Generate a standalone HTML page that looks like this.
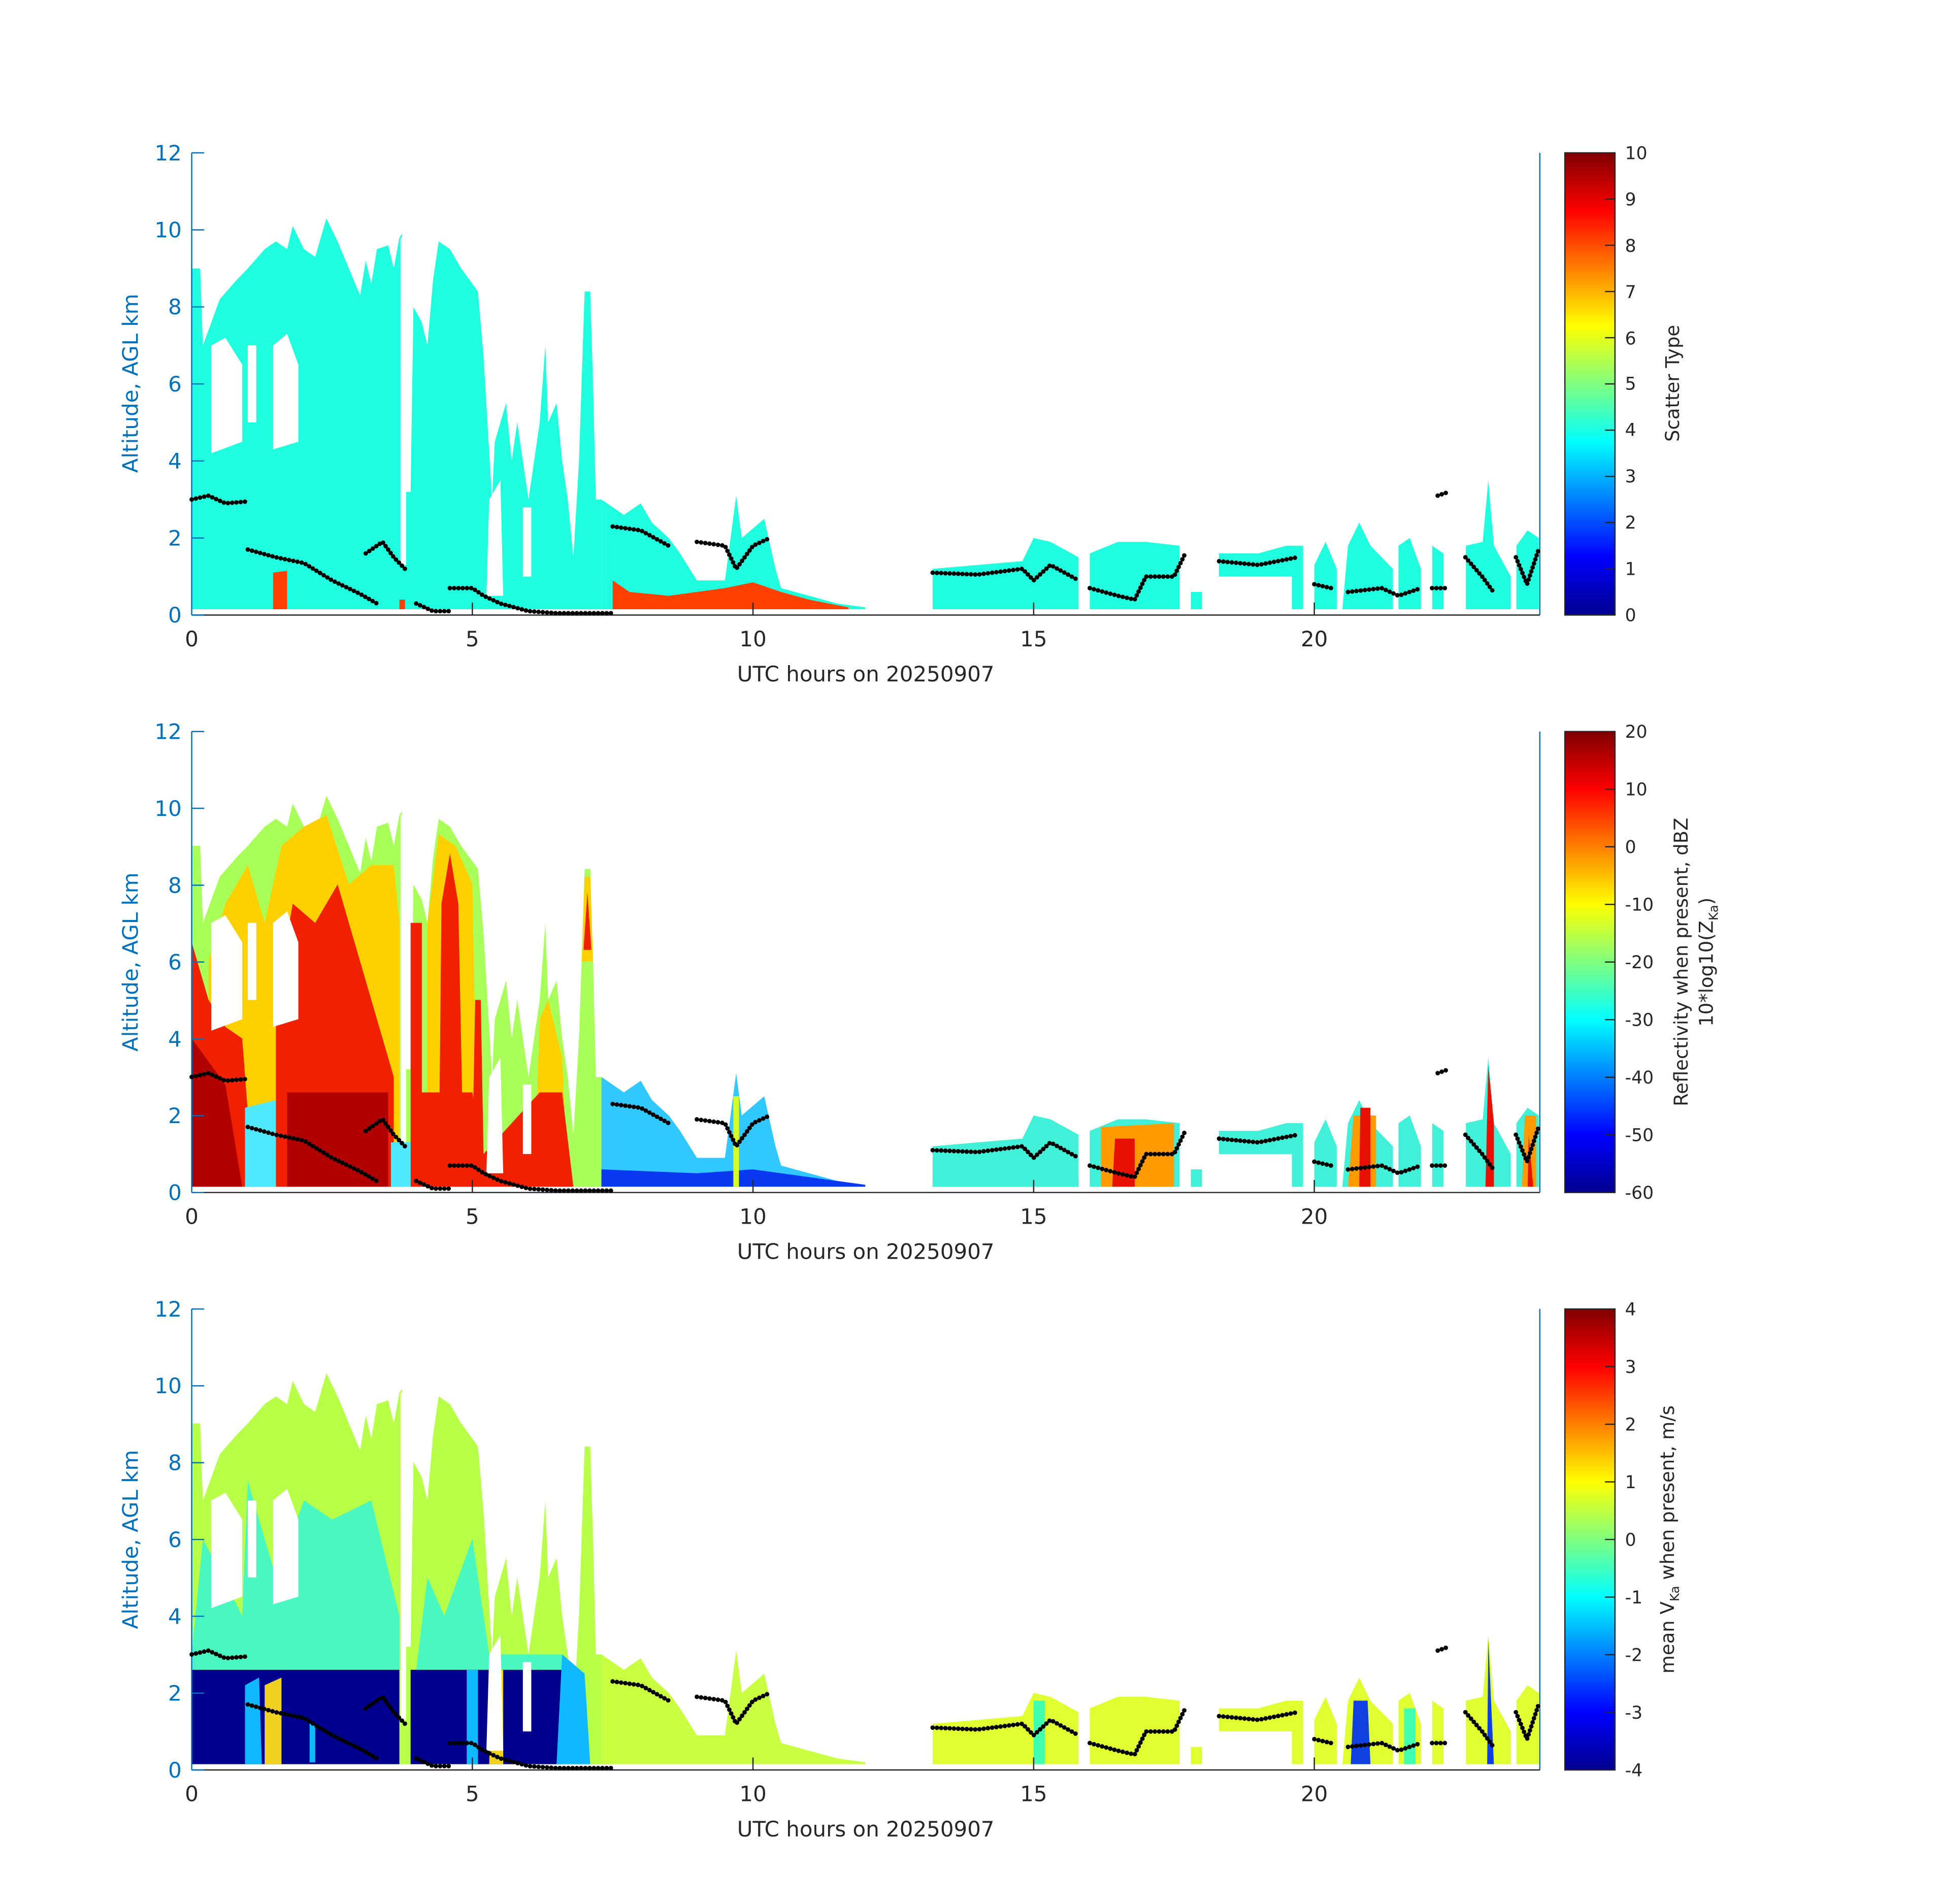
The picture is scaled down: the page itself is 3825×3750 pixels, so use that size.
<!DOCTYPE html>
<html><head><meta charset="utf-8"><style>html,body{margin:0;padding:0;background:#fff}svg{display:block}</style></head>
<body>
<svg width="3825" height="3750" viewBox="0 0 1550 1520" preserveAspectRatio="none" xmlns="http://www.w3.org/2000/svg" font-family="DejaVu Sans, Liberation Sans, sans-serif">
<defs>
<linearGradient id="jet" x1="0" y1="1" x2="0" y2="0">
<stop offset="0" stop-color="#00008f"/><stop offset="0.125" stop-color="#0000ff"/><stop offset="0.375" stop-color="#00ffff"/><stop offset="0.625" stop-color="#ffff00"/><stop offset="0.875" stop-color="#ff0000"/><stop offset="1" stop-color="#800000"/>
</linearGradient>
<path id="envA" d="M0 .15 L0 9 L0.15 9 L0.2 7 L0.5 8.2 L0.8 8.7 L1 9 L1.3 9.5 L1.5 9.7 L1.7 9.5 L1.8 10.1 L2 9.5 L2.2 9.3 L2.4 10.3 L2.6 9.7 L2.8 9 L3 8.3 L3.1 9.2 L3.2 8.6 L3.3 9.5 L3.5 9.6 L3.6 9 L3.7 9.8 L3.75 9.9 L3.8 3.2 L3.9 3.2 L3.95 8 L4.1 7.6 L4.2 7 L4.3 8.7 L4.4 9.7 L4.6 9.5 L4.8 9 L5 8.6 L5.1 8.4 L5.2 6.7 L5.35 3 L5.4 4.5 L5.6 5.5 L5.7 4 L5.8 5 L6 3 L6.1 4 L6.2 5 L6.3 7 L6.35 5 L6.5 5.5 L6.6 4 L6.7 3 L6.8 1.5 L6.9 4 L7 8.4 L7.1 8.4 L7.15 6 L7.2 3 L7.3 3 L7.3 .15 Z"/>
<path id="envB" d="M7.3 .15 L7.3 3 L7.7 2.6 L8 2.9 L8.2 2.4 L8.5 2 L8.7 1.6 L9 .9 L9.5 .9 L9.7 3.1 L9.8 2 L10.2 2.5 L10.4 1.2 L10.5 .7 L11 .5 L11.5 .3 L12 .2 L12 .15 Z"/>
<path id="late" d="M13.2 .15 L13.2 1.2 L14 1.3 L14.8 1.4 L15 2 L15.3 1.9 L15.8 1.5 L15.8 .15 Z M16 .15 L16 1.6 L16.5 1.9 L17 1.9 L17.6 1.8 L17.6 .15 Z M17.8 .15 L17.8 .6 L18 .6 L18 .15 Z M18.3 1.0 L18.3 1.6 L19 1.6 L19.5 1.8 L19.8 1.8 L19.8 .15 L19.6 .15 L19.6 1.0 Z M20 .15 L20 1.3 L20.2 1.9 L20.4 1.2 L20.4 .15 Z M20.5 .15 L20.6 1.8 L20.8 2.4 L21 1.8 L21.4 1.2 L21.4 .15 Z M21.5 .15 L21.5 1.8 L21.7 2.0 L21.9 1.2 L21.9 .15 Z M22.1 .15 L22.1 1.8 L22.3 1.6 L22.3 .15 Z M22.7 .15 L22.7 1.8 L23 1.9 L23.1 3.5 L23.2 1.8 L23.5 1.0 L23.5 .15 Z M23.6 .15 L23.6 1.8 L23.8 2.2 L24 2.0 L24 .15 Z"/>
<path id="holes" d="M0.35 4.2 L0.35 7 L0.6 7.2 L0.9 6.5 L0.9 4.5 Z M1.0 5 L1.0 7 L1.15 7 L1.15 5 Z M1.45 4.3 L1.45 7 L1.7 7.3 L1.9 6.5 L1.9 4.5 Z M3.72 1.3 L3.72 9.8 L3.82 9.8 L3.82 1.3 Z M5.25 .5 L5.3 3 L5.5 3.5 L5.55 .5 Z M5.9 1 L5.9 2.8 L6.05 2.8 L6.05 1 Z"/>
</defs>

<!-- ============ PANEL 1 ============ -->
<g transform="translate(153,491) scale(44.8,-30.75)">
<use href="#envA" fill="#1fffdf"/>
<use href="#envB" fill="#1fffdf"/>
<use href="#late" fill="#1fffdf"/>
<use href="#holes" fill="#fff"/>
<path d="M7.5 .15 L7.5 .9 L7.8 .6 L8.5 .5 L9.5 .7 L10 .85 L10.5 .6 L11 .4 L11.7 .2 L11.7 .15 Z M1.45 .15 L1.45 1.1 L1.7 1.15 L1.7 .15 Z M3.7 .15 L3.7 .4 L3.8 .4 L3.8 .15 Z" fill="#ff4000"/>
</g>
<!-- ============ PANEL 2 ============ -->
<g transform="translate(153,952) scale(44.8,-30.75)">
<use href="#envA" fill="#a8ff58"/>
<path d="M0.3 .15 L0.3 6 L0.6 7.5 L1 8.5 L1.3 7 L1.6 9 L2 9.5 L2.4 9.8 L2.8 8 L3.2 8.5 L3.6 8.5 L3.7 7 L3.7 .15 Z M4.2 .15 L4.2 7 L4.4 9.3 L4.7 9 L5 8 L5.1 .15 Z M6.1 .15 L6.2 4.5 L6.35 5 L6.6 3.5 L6.7 .15 Z M6.95 6 L7.0 8.2 L7.1 8.2 L7.15 6 Z" fill="#ffd000"/>
<path d="M0 .15 L0 6.5 L0.3 5 L0.6 4.3 L0.9 4 L1.1 .15 Z M1.5 .15 L1.5 5 L1.8 7.5 L2.2 7 L2.6 8 L3 6 L3.3 4.5 L3.6 3 L3.6 .15 Z M3.9 .15 L3.9 7 L4.1 7 L4.1 .15 Z M4.4 .15 L4.45 7.5 L4.6 8.8 L4.75 7.5 L4.85 .15 Z M3.9 .15 L3.9 2.6 L5 2.6 L5.2 1 L6.2 2.6 L6.6 2.6 L6.8 .15 Z M5.0 1 L5.05 5 L5.15 5 L5.2 1 Z M6.98 6.3 L7.05 7.8 L7.12 6.3 Z" fill="#f02000"/>
<path d="M0 .15 L0 4 L0.6 2.8 L0.9 .15 Z M1.7 .15 L1.7 2.6 L3.5 2.6 L3.5 .15 Z" fill="#b00000"/>
<path d="M0.95 .15 L0.95 2.2 L1.5 2.4 L1.5 .15 Z M3.55 .15 L3.55 1.3 L3.9 1.3 L3.9 .15 Z" fill="#50e8ff"/>
<use href="#holes" fill="#fff"/>
<use href="#envB" fill="#30c8ff"/>
<path d="M7.3 .15 L7.3 .6 L9 .5 L10 .6 L11 .4 L12 .2 L12 .15 Z M13.2 .15 L13.2 .35 L15.8 .35 L15.8 .15 Z" fill="#0838f0"/>
<path d="M9.65 .15 L9.65 2.5 L9.75 2.5 L9.75 .15 Z" fill="#d8ff20"/>
<use href="#late" fill="#40f0d8"/>
<path d="M16.2 .15 L16.2 1.7 L17.5 1.8 L17.5 .15 Z M20.6 .15 L20.7 2 L21.1 2 L21.1 .15 Z M23.7 .15 L23.75 2 L23.95 2 L23.95 .15 Z" fill="#ff9a00"/>
<path d="M16.4 .15 L16.45 1.4 L16.8 1.4 L16.8 .15 Z M20.8 .15 L20.82 2.2 L21.0 2.2 L21.0 .15 Z M23.05 .15 L23.1 3.3 L23.2 1.8 L23.2 .15 Z M23.8 .15 L23.82 1.5 L23.9 .15 Z" fill="#e81000"/>
</g>
<!-- ============ PANEL 3 ============ -->
<g transform="translate(153,1413) scale(44.8,-30.75)">
<use href="#envA" fill="#b8ff48"/>
<path d="M0 3 L0.2 6 L0.9 4 L1 7.5 L1.5 5 L2 7 L2.5 6.5 L3.2 7 L3.7 4 L3.7 2.6 L0 2.6 Z M4 2.6 L4.2 5 L4.5 4 L5 6 L5.3 3 L6.6 3 L6.6 2.6 Z" fill="#48f8c0"/>
<path d="M0 .15 L0 2.6 L3.7 2.6 L3.7 .15 Z M3.9 .15 L3.9 2.6 L6.6 2.6 L6.6 .15 Z" fill="#00008f"/>
<path d="M0.95 .15 L0.95 2.2 L1.2 2.4 L1.25 .15 Z M4.9 .15 L4.9 2.6 L5.1 2.6 L5.1 .15 Z M6.5 .15 L6.6 3 L7 2.5 L7.1 .15 Z M2.1 .2 L2.1 1.2 L2.2 1.2 L2.2 .2 Z" fill="#10b8ff"/>
<path d="M1.3 .15 L1.3 2.2 L1.6 2.4 L1.6 .15 Z M5.3 .15 L5.35 2.6 L5.55 2.6 L5.55 .15 Z" fill="#f0d020"/>
<use href="#holes" fill="#fff"/>
<use href="#envB" fill="#c8ff40"/>
<use href="#late" fill="#e0ff30"/>
<path d="M20.65 .15 L20.7 1.8 L20.95 1.8 L21.0 .15 Z M23.08 .15 L23.1 3.4 L23.2 .15 Z" fill="#1040e0"/>
<path d="M15.0 .15 L15.0 1.8 L15.2 1.8 L15.2 .15 Z M21.6 .15 L21.6 1.6 L21.8 1.6 L21.8 .15 Z" fill="#40ffb0"/>
</g>

<g>
<line x1="153" y1="122" x2="153" y2="491" stroke="#0072BD"/>
<line x1="1229" y1="122" x2="1229" y2="491" stroke="#0072BD"/>
<line x1="153" y1="491" x2="1229" y2="491" stroke="#262626"/>
<line x1="153" y1="584" x2="153" y2="952" stroke="#0072BD"/>
<line x1="1229" y1="584" x2="1229" y2="952" stroke="#0072BD"/>
<line x1="153" y1="952" x2="1229" y2="952" stroke="#262626"/>
<line x1="153" y1="1045" x2="153" y2="1413" stroke="#0072BD"/>
<line x1="1229" y1="1045" x2="1229" y2="1413" stroke="#0072BD"/>
<line x1="153" y1="1413" x2="1229" y2="1413" stroke="#262626"/>
</g>
<g stroke="#0072BD" stroke-width="1">
<path d="M153 122h10M153 183.5h10M153 245h10M153 306.5h10M153 368h10M153 429.5h10M153 491h10"/>
<path d="M153 584h10M153 645.3h10M153 706.7h10M153 768h10M153 829.3h10M153 890.7h10M153 952h10"/>
<path d="M153 1045h10M153 1106.3h10M153 1167.7h10M153 1229h10M153 1290.3h10M153 1351.7h10M153 1413h10"/>
</g>
<g stroke="#262626" stroke-width="1">
<path d="M377 491v-10M601 491v-10M825 491v-10M1049 491v-10"/>
<path d="M377 952v-10M601 952v-10M825 952v-10M1049 952v-10"/>
<path d="M377 1413v-10M601 1413v-10M825 1413v-10M1049 1413v-10"/>
</g>
<g fill="#0072BD" font-size="17" text-anchor="end">
<text x="145" y="128">12</text><text x="145" y="189.5">10</text><text x="145" y="251">8</text><text x="145" y="312.5">6</text><text x="145" y="374">4</text><text x="145" y="435.5">2</text><text x="145" y="497">0</text>
<text x="145" y="590">12</text><text x="145" y="651.3">10</text><text x="145" y="712.7">8</text><text x="145" y="774">6</text><text x="145" y="835.3">4</text><text x="145" y="896.7">2</text><text x="145" y="958">0</text>
<text x="145" y="1051">12</text><text x="145" y="1112.3">10</text><text x="145" y="1173.7">8</text><text x="145" y="1235">6</text><text x="145" y="1296.3">4</text><text x="145" y="1357.7">2</text><text x="145" y="1419">0</text>
</g>
<g fill="#0072BD" font-size="17" text-anchor="middle">
<text transform="translate(110,306) rotate(-90)">Altitude, AGL km</text>
<text transform="translate(110,768) rotate(-90)">Altitude, AGL km</text>
<text transform="translate(110,1229) rotate(-90)">Altitude, AGL km</text>
</g>
<g fill="#262626" font-size="17" text-anchor="middle">
<text x="153" y="516">0</text><text x="377" y="516">5</text><text x="601" y="516">10</text><text x="825" y="516">15</text><text x="1049" y="516">20</text>
<text x="691" y="544">UTC hours on 20250907</text>
<text x="153" y="977">0</text><text x="377" y="977">5</text><text x="601" y="977">10</text><text x="825" y="977">15</text><text x="1049" y="977">20</text>
<text x="691" y="1005">UTC hours on 20250907</text>
<text x="153" y="1438">0</text><text x="377" y="1438">5</text><text x="601" y="1438">10</text><text x="825" y="1438">15</text><text x="1049" y="1438">20</text>
<text x="691" y="1466">UTC hours on 20250907</text>
</g>

<rect x="1249" y="122" width="40" height="369" fill="url(#jet)" stroke="#262626" stroke-width="1"/>
<rect x="1249" y="584" width="40" height="368" fill="url(#jet)" stroke="#262626" stroke-width="1"/>
<rect x="1249" y="1045" width="40" height="368" fill="url(#jet)" stroke="#262626" stroke-width="1"/>
<g stroke="#262626" stroke-width="1">
<path d="M1289 158.9h-8M1289 195.8h-8M1289 232.7h-8M1289 269.6h-8M1289 306.5h-8M1289 343.4h-8M1289 380.3h-8M1289 417.2h-8M1289 454.1h-8"/>
<path d="M1289 630h-8M1289 676h-8M1289 722h-8M1289 768h-8M1289 814h-8M1289 860h-8M1289 906h-8"/>
<path d="M1289 1091h-8M1289 1137h-8M1289 1183h-8M1289 1229h-8M1289 1275h-8M1289 1321h-8M1289 1367h-8"/>
</g>
<g fill="#262626" font-size="14">
<text x="1297" y="127">10</text><text x="1297" y="164">9</text><text x="1297" y="201">8</text><text x="1297" y="238">7</text><text x="1297" y="275">6</text><text x="1297" y="311">5</text><text x="1297" y="348">4</text><text x="1297" y="385">3</text><text x="1297" y="422">2</text><text x="1297" y="459">1</text><text x="1297" y="496">0</text>
<text x="1297" y="589">20</text><text x="1297" y="635">10</text><text x="1297" y="681">0</text><text x="1297" y="727">-10</text><text x="1297" y="773">-20</text><text x="1297" y="819">-30</text><text x="1297" y="865">-40</text><text x="1297" y="911">-50</text><text x="1297" y="957">-60</text>
<text x="1297" y="1050">4</text><text x="1297" y="1096">3</text><text x="1297" y="1142">2</text><text x="1297" y="1188">1</text><text x="1297" y="1234">0</text><text x="1297" y="1280">-1</text><text x="1297" y="1326">-2</text><text x="1297" y="1372">-3</text><text x="1297" y="1418">-4</text>
</g>
<g fill="#262626" font-size="15" text-anchor="middle">
<text transform="translate(1340,306) rotate(-90)">Scatter Type</text>
<text transform="translate(1347,768) rotate(-90)">Reflectivity when present, dBZ</text>
<text transform="translate(1367,768) rotate(-90)">10*log10(Z<tspan font-size="10" dy="4">Ka</tspan><tspan dy="-4">)</tspan></text>
<text transform="translate(1336,1229) rotate(-90)">mean V<tspan font-size="10" dy="4">Ka</tspan><tspan dy="-4"> when present, m/s</tspan></text>
</g>

<g fill="none" stroke="#000" stroke-linecap="round" stroke-width="3.6" stroke-dasharray="0 3.4">
<path d="M153 398.75 L166.4 395.7 L179.9 401.8 L197.8 400.3 M197.8 438.7 L220.2 444.9 L242.6 449.5 L265 463.3 L287.4 474.1 L300.8 481.8 M291.9 441.8 L305.3 432.6 L314.3 444.9 L323.2 454.1 M332.2 481.8 L345.6 487.9 L359.1 487.9 M359.1 469.5 L377 469.5 L386 475.6 L399.4 481.8 L421.8 487.9 L444.2 489.5 L489 489.5 M489 420.3 L511.4 423.4 L533.8 435.7 M556.2 432.6 L578.6 435.7 L587.6 454.1 L601 435.7 L614.4 429.5 M744.4 457.2 L780.2 458.7 L816 454.1 L825 463.3 L838.4 451 L860.8 463.3 M869.8 469.5 L892.2 475.6 L905.6 478.7 L914.6 460.3 L937 460.3 L946 441.8 M973 448 L1004.2 451 L1035.6 444.9 M1049 466.4 L1062.4 469.5 M1075.9 472.6 L1102.8 469.5 L1116.2 475.6 L1134.1 469.5 M1143 469.5 L1156.5 469.5 M1147.5 395.7 L1156.5 392.6 M1169.6 444.9 L1183 460.3 L1192 472.6 M1209.9 444.9 L1218.8 466.4 L1228 438.7"/>
<path d="M153 859.75 L166.4 856.7 L179.9 862.8 L197.8 861.3 M197.8 899.7 L220.2 905.9 L242.6 910.5 L265 924.3 L287.4 935.1 L300.8 942.8 M291.9 902.8 L305.3 893.6 L314.3 905.9 L323.2 915.1 M332.2 942.8 L345.6 948.9 L359.1 948.9 M359.1 930.5 L377 930.5 L386 936.6 L399.4 942.8 L421.8 948.9 L444.2 950.5 L489 950.5 M489 881.3 L511.4 884.4 L533.8 896.7 M556.2 893.6 L578.6 896.7 L587.6 915.1 L601 896.7 L614.4 890.5 M744.4 918.2 L780.2 919.7 L816 915.1 L825 924.3 L838.4 912 L860.8 924.3 M869.8 930.5 L892.2 936.6 L905.6 939.7 L914.6 921.3 L937 921.3 L946 902.8 M973 909 L1004.2 912 L1035.6 905.9 M1049 927.4 L1062.4 930.5 M1075.9 933.6 L1102.8 930.5 L1116.2 936.6 L1134.1 930.5 M1143 930.5 L1156.5 930.5 M1147.5 856.7 L1156.5 853.6 M1169.6 905.9 L1183 921.3 L1192 933.6 M1209.9 905.9 L1218.8 927.4 L1228 899.7"/>
<path d="M153 1320.75 L166.4 1317.7 L179.9 1323.8 L197.8 1322.3 M197.8 1360.7 L220.2 1366.9 L242.6 1371.5 L265 1385.3 L287.4 1396.1 L300.8 1403.8 M291.9 1363.8 L305.3 1354.6 L314.3 1366.9 L323.2 1376.1 M332.2 1403.8 L345.6 1409.9 L359.1 1409.9 M359.1 1391.5 L377 1391.5 L386 1397.6 L399.4 1403.8 L421.8 1409.9 L444.2 1411.5 L489 1411.5 M489 1342.3 L511.4 1345.4 L533.8 1357.7 M556.2 1354.6 L578.6 1357.7 L587.6 1376.1 L601 1357.7 L614.4 1351.5 M744.4 1379.2 L780.2 1380.7 L816 1376.1 L825 1385.3 L838.4 1373 L860.8 1385.3 M869.8 1391.5 L892.2 1397.6 L905.6 1400.7 L914.6 1382.3 L937 1382.3 L946 1363.8 M973 1370 L1004.2 1373 L1035.6 1366.9 M1049 1388.4 L1062.4 1391.5 M1075.9 1394.6 L1102.8 1391.5 L1116.2 1397.6 L1134.1 1391.5 M1143 1391.5 L1156.5 1391.5 M1147.5 1317.7 L1156.5 1314.6 M1169.6 1366.9 L1183 1382.3 L1192 1394.6 M1209.9 1366.9 L1218.8 1388.4 L1228 1360.7"/>
</g>
</svg>
</body></html>
